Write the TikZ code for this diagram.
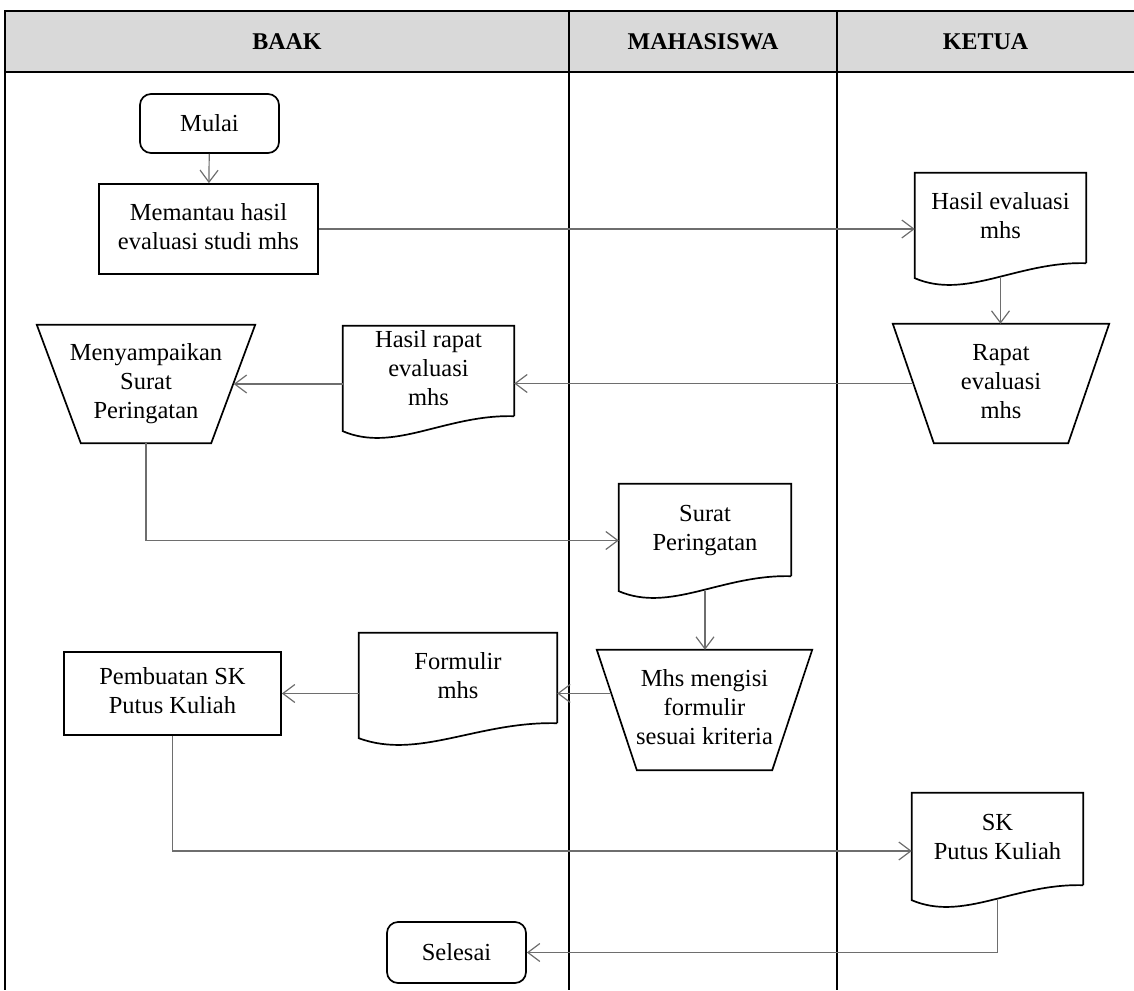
\documentclass[tikz,border=0pt]{standalone}
\usepackage{fontspec}
\setmainfont{Liberation Serif}
\usetikzlibrary{arrows.meta,calc}
\definecolor{hdr}{HTML}{D9D9D9}
\definecolor{arrc}{HTML}{6E6E6E}
\newcommand\lns[1]{\begin{tabular}{@{}c@{}}#1\end{tabular}}
\newcommand\docshape[1]{\draw[outl] (#1.south east) -- (#1.north east) -- (#1.north west) -- ([yshift=-15pt]#1.south west) .. controls ($(#1.south west)!0.3!(#1.south east)+(0pt,-37pt)$) and ($(#1.south west)!0.6!(#1.south east)+(0pt,2pt)$) .. (#1.south east);}
\newcommand\trapshape[2]{\draw[outl] (#1.north west) -- (#1.north east) -- ([xshift=-#2]#1.south east) -- ([xshift=#2]#1.south west) -- cycle;}
\begin{document}
\begin{tikzpicture}[x=1pt,y=-1pt,
  every node/.style={font=\fontsize{24.5}{29}\selectfont, inner sep=0pt},
  tbl/.style={draw=black, line width=1.1pt},
  hdrtext/.style={font=\fontsize{24}{29}\selectfont\bfseries},
  outl/.style={draw=black, line width=1.7pt},
  proc/.style={draw=black, line width=1.7pt, rectangle},
  term/.style={draw=black, line width=1.7pt, rectangle, rounded corners=11pt},
  ghost/.style={draw=none, rectangle},
  arr/.style={draw=arrc, line width=1.2pt, -{Straight Barb[length=12pt,width=18pt]}},
  lin/.style={draw=arrc, line width=1.2pt}]
\useasboundingbox (0,0) rectangle (1134,990);
% swimlane frame
\fill[hdr] (5,11) rectangle (1134,72);
\draw[tbl] (1134,11) -- (5,11) -- (5,990);
\draw[tbl] (5,72) -- (1134,72);
\draw[tbl] (569,11) -- (569,990);
\draw[tbl] (837,11) -- (837,990);
\node[hdrtext] (hbaak) at (287,42) {BAAK};
\node[hdrtext] (hmhs) at (703,42) {MAHASISWA};
\node[hdrtext] (hketua) at (985.5,42) {KETUA};
% nodes
\node[term, minimum width=139pt, minimum height=59pt] (mulai) at (209.5,123.5) {Mulai};
\node[proc, minimum width=219pt, minimum height=90pt] (mem) at (208.5,229) {\lns{Memantau hasil\\evaluasi studi mhs}};
\node[ghost, minimum width=171pt, minimum height=90pt] (hev) at (1000.5,218) {\lns{Hasil evaluasi\\mhs}};
\docshape{hev}
\node[ghost, minimum width=216pt, minimum height=119pt] (rapat) at (1001,383.5) {\raisebox{8pt}{\lns{Rapat\\evaluasi\\mhs}}};
\trapshape{rapat}{41pt}
\node[ghost, minimum width=171pt, minimum height=90pt] (hrapat) at (428.5,371) {\lns{Hasil rapat\\evaluasi\\mhs}};
\docshape{hrapat}
\node[ghost, minimum width=218pt, minimum height=118pt] (menyamp) at (146,384) {\raisebox{8pt}{\lns{Menyampaikan\\Surat\\Peringatan}}};
\trapshape{menyamp}{44pt}
\node[ghost, minimum width=172pt, minimum height=92pt] (surat) at (705,530) {\lns{Surat\\Peringatan}};
\docshape{surat}
\node[ghost, minimum width=215pt, minimum height=120pt] (mhs) at (704.5,710) {\raisebox{4pt}{\lns{Mhs mengisi\\formulir\\sesuai kriteria}}};
\trapshape{mhs}{40pt}
\node[ghost, minimum width=198pt, minimum height=90pt] (formulir) at (458,678) {\lns{Formulir\\mhs}};
\docshape{formulir}
\node[proc, minimum width=217pt, minimum height=83pt] (pemb) at (172.5,693.5) {\lns{Pembuatan SK\\Putus Kuliah}};
\node[ghost, minimum width=171pt, minimum height=92pt] (skdoc) at (997.5,839) {\lns{SK\\Putus Kuliah}};
\docshape{skdoc}
\node[term, minimum width=139pt, minimum height=61pt] (selesai) at (456.5,952.5) {Selesai};
% connector end points on slanted / wavy edges
\coordinate (rapatL) at ([xshift=20.5pt]rapat.west);
\coordinate (menR) at ([xshift=-21.5pt]menyamp.east);
\coordinate (hevB) at ([yshift=-15pt]hev.south);
\coordinate (suratB) at ([yshift=-15pt]surat.south);
\coordinate (suratIn) at ([yshift=-10.5pt]surat.west);
\coordinate (mhsL) at ($(mhs.north west)!0.3625!(mhs.south west)+(14.5pt,0pt)$);
\coordinate (skIn) at ([yshift=-12pt]skdoc.west);
\coordinate (skB) at ([yshift=-15pt]skdoc.south);
% connectors
\draw[arr] (mulai) -- (mem);
\draw[arr] (mem.east) -- (mem.east -| hev.west);
\draw[arr] (hevB) -- (hevB |- rapat.north);
\draw[arr] (rapatL) -- (rapatL -| hrapat.east);
\draw[arr] (hrapat.west |- menR) -- (menR);
\draw[arr] (menyamp.south) |- (suratIn);
\draw[arr] (suratB) -- (suratB |- mhs.north);
\draw[arr] (mhsL) -- (mhsL -| formulir.east);
\draw[arr] (formulir.west |- pemb.east) -- (pemb.east);
\draw[arr] (pemb.south) |- (skIn);
\draw[arr] (skB) |- (selesai.east);
\end{tikzpicture}
\end{document}
